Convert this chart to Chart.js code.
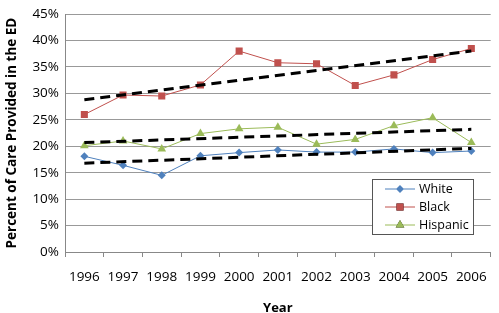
<!DOCTYPE html>
<html>
<head>
<meta charset="utf-8">
<script src="https://cdn.jsdelivr.net/npm/chart.js@4"></script>
<style>
  html, body { margin: 0; padding: 0; background: #fff; }
  #wrap { width: 499px; height: 313px; position: relative; }
</style>
</head>
<body>
<div id="wrap"><canvas id="myChart" width="499" height="313"></canvas></div>
<script>
// Data
const years    = ['1996','1997','1998','1999','2000','2001','2002','2003','2004','2005','2006'];
const white    = [18.1, 16.4, 14.5, 18.2, 18.8, 19.3, 18.9, 18.9, 19.5, 18.8, 19.1];
const black    = [26.0, 29.7, 29.5, 31.6, 38.0, 35.8, 35.6, 31.5, 33.5, 36.4, 38.5];
const hispanic = [20.1, 21.0, 19.5, 22.4, 23.3, 23.6, 20.4, 21.3, 23.9, 25.4, 20.7];
// trend lines: start and end values only
const whiteTrend    = [16.8, null, null, null, null, null, null, null, null, null, 19.6];
const blackTrend    = [28.8, null, null, null, null, null, null, null, null, null, 38.0];
const hispanicTrend = [20.7, null, null, null, null, null, null, null, null, null, 23.2];
const yTicks = [0, 5, 10, 15, 20, 25, 30, 35, 40, 45];

const FONT = '"Open Sans", "DejaVu Sans", sans-serif';

function series(label, data, color, style, radius) {
  return {
    label, data,
    borderColor: color, backgroundColor: color,
    borderWidth: 1, pointStyle: style, pointRadius: radius,
    pointBorderWidth: 0, tension: 0, order: 2
  };
}
function trend(data) {
  return {
    label: '', data, spanGaps: true,
    borderColor: '#000', borderWidth: 3, borderDash: [10, 6],
    pointRadius: 0, order: 1
  };
}

// legend box drawn inside the plot area
const boxLegend = {
  id: 'boxLegend',
  afterDraw(c) {
    const ctx = c.ctx;
    const x = 372, y = 179, w = 101, h = 55;
    ctx.save();
    ctx.fillStyle = '#fff';
    ctx.fillRect(x, y, w, h);
    ctx.strokeStyle = '#555';
    ctx.lineWidth = 1;
    ctx.strokeRect(x + 0.5, y + 0.5, w, h);
    const items = c.data.datasets.slice(0, 3);
    items.forEach((ds, i) => {
      const cy = y + 10 + i * 18;
      ctx.strokeStyle = ds.borderColor;
      ctx.lineWidth = 1;
      ctx.beginPath();
      ctx.moveTo(x + 13, cy);
      ctx.lineTo(x + 43, cy);
      ctx.stroke();
      Chart.helpers.drawPoint(ctx, {
        pointStyle: ds.pointStyle, radius: ds.pointRadius, borderWidth: 0
      }, x + 28, cy);
      ctx.fillStyle = ds.backgroundColor;
      ctx.fill();
      ctx.fillStyle = '#000';
      ctx.font = '12.5px ' + FONT;
      ctx.textBaseline = 'middle';
      ctx.fillText(ds.label, x + 47, cy);
    });
    ctx.restore();
  }
};

new Chart(document.getElementById('myChart'), {
  type: 'line',
  data: {
    labels: years,
    datasets: [
      series('White', white, '#4F81BD', 'rectRot', 4),
      series('Black', black, '#C0504D', 'rect', 5),
      series('Hispanic', hispanic, '#9BBB59', 'triangle', 5),
      trend(whiteTrend),
      trend(blackTrend),
      trend(hispanicTrend)
    ]
  },
  options: {
    responsive: false,
    animation: false,
    layout: { padding: { top: 6, right: 0, bottom: 0, left: 4 } },
    plugins: { legend: { display: false }, tooltip: { enabled: false } },
    scales: {
      x: {
        offset: true,
        grid: { offset: true, drawOnChartArea: false, drawTicks: true, tickLength: 5, color: '#888' },
        border: { color: '#888' },
        ticks: { color: '#000', font: { family: FONT, size: 13.5 }, padding: 12, maxRotation: 0 },
        title: { display: true, text: 'Year', color: '#000', font: { family: FONT, size: 13, weight: 'bold' }, padding: { top: 12, bottom: -3 } },
        afterFit(s) { s.height = 61; }
      },
      y: {
        min: 0, max: 45,
        afterBuildTicks(s) { s.ticks = yTicks.map(v => ({ value: v })); },
        grid: { color: '#999', borderDash: [2, 2], drawTicks: false },
        border: { color: '#888' },
        ticks: { color: '#000', font: { family: FONT, size: 13.5 }, padding: 6, callback: v => v + '%' },
        title: { display: true, text: 'Percent of Care Provided in the ED', color: '#000', font: { family: FONT, size: 13.5, weight: 'bold' }, padding: { top: 0, bottom: 2 } },
        afterFit(s) { s.width = 61; }
      }
    }
  },
  plugins: [boxLegend]
});
</script>
</body>
</html>
